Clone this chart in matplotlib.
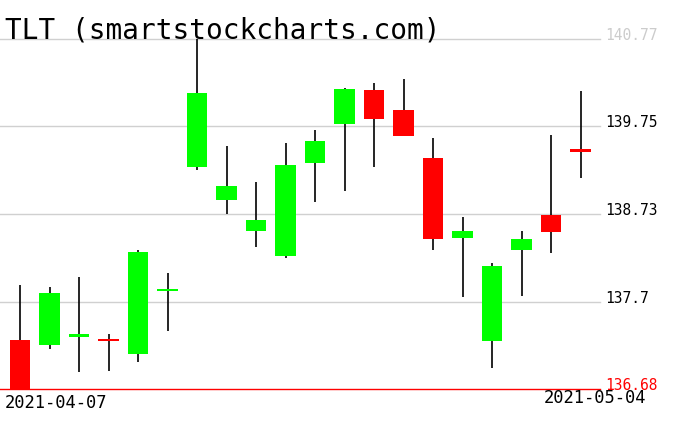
import matplotlib
matplotlib.use('Agg')
import matplotlib.pyplot as plt
import numpy as np

# TLT daily candles, 2021-04-07 .. 2021-05-04
dates = ['2021-04-07', '2021-04-08', '2021-04-09', '2021-04-12', '2021-04-13',
         '2021-04-14', '2021-04-15', '2021-04-16', '2021-04-19', '2021-04-20',
         '2021-04-21', '2021-04-22', '2021-04-23', '2021-04-26', '2021-04-27',
         '2021-04-28', '2021-04-29', '2021-04-30', '2021-05-03', '2021-05-04']
opens = [137.25, 137.19, 137.30, 137.26, 137.09, 137.83, 139.28, 138.89, 138.53, 138.23,
         139.32, 139.78, 140.17, 139.94, 139.38, 138.44, 137.24, 138.30, 138.71, 139.47]
highs = [137.90, 137.87, 137.99, 137.32, 138.30, 138.04, 140.77, 139.52, 139.10, 139.55,
         139.71, 140.20, 140.26, 140.30, 139.61, 138.69, 138.15, 138.53, 139.65, 140.16]
lows = [136.68, 137.15, 136.88, 136.89, 136.99, 137.36, 139.24, 138.73, 138.34, 138.21,
        138.86, 138.99, 139.28, 139.64, 138.31, 137.75, 136.92, 137.77, 138.27, 139.15]
closes = [136.68, 137.80, 137.31, 137.25, 138.28, 137.84, 140.14, 139.05, 138.66, 139.30,
          139.58, 140.19, 139.84, 139.64, 138.43, 138.53, 138.12, 138.43, 138.51, 139.46]

levels = [140.77, 139.75, 138.73, 137.7, 136.68]
level_colors = ['#cccccc', 'black', 'black', 'black', 'red']

W, H = 676, 431
fig = plt.figure(figsize=(W / 100, H / 100), dpi=100)
ax = fig.add_axes([0, (H - 390) / H, 600 / W, 350 / H])
ax.axis('off')

ymin, ymax = min(levels), max(levels)
ax.set_ylim(ymin, ymax)
ax.set_xlim(-0.68, 19.66)

# grid
for lv in levels[:-1]:
    ax.axhline(lv, color='#d0d0d0', lw=1.0, zorder=0, clip_on=False)
ax.axhline(levels[-1], color='red', lw=1.0, zorder=4, clip_on=False)

x = np.arange(len(dates))
o = np.array(opens)
c = np.array(closes)
up = c >= o
colors = np.where(up, '#00ff00', '#ff0000')

ax.vlines(x, lows, highs, color='black', lw=1.2, zorder=1)
bottoms = np.minimum(o, c)
heights = np.maximum(np.abs(c - o), 0.03)
bottoms = np.where(np.abs(c - o) < 0.03, (o + c) / 2 - 0.015, bottoms)
ax.bar(x, heights, bottom=bottoms, width=0.7, color=colors, zorder=2)

# price labels on the right
trans = matplotlib.transforms.blended_transform_factory(
    matplotlib.transforms.IdentityTransform(), ax.transData)
for lv, col in zip(levels, level_colors):
    ax.text(605, lv, f'{lv:g}', color=col, fontsize=10.5, family='DejaVu Sans Mono',
            va='baseline', ha='left', transform=trans, zorder=5)

fig.text(5 / W, 1 - 38 / H, 'TLT (smartstockcharts.com)', fontsize=20,
         family='DejaVu Sans Mono', va='baseline', ha='left')
fig.text(5 / W, 1 - 394 / H, dates[0], fontsize=12.3, family='DejaVu Sans Mono',
         va='top', ha='left')
fig.text(646 / W, 1 - 389 / H, dates[-1], fontsize=12.3, family='DejaVu Sans Mono',
         va='top', ha='right')

fig.savefig('out.png', dpi=100)
